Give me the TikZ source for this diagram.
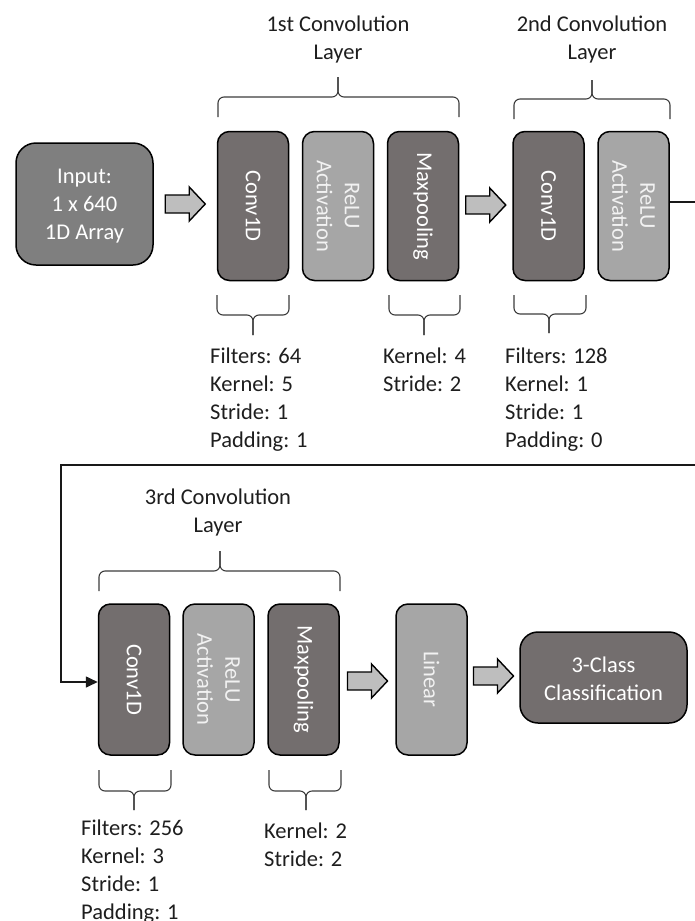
\documentclass[tikz,border=0pt]{standalone}
\usepackage{fontspec}
\setmainfont{Carlito}
\usetikzlibrary{calc,arrows.meta}

\definecolor{boxdark}{RGB}{115,110,110}
\definecolor{boxlight}{RGB}{166,166,166}
\definecolor{boxinput}{RGB}{127,127,127}
\definecolor{arrowfill}{RGB}{190,190,190}
\definecolor{inktext}{RGB}{30,30,30}
\definecolor{bracegray}{RGB}{60,60,60}

\tikzset{
  txt/.style={font=\fontsize{22.5}{28}\selectfont, inner sep=0pt},
  layerbox/.style={draw=black, line width=1.5pt, rounded corners=12pt,
    minimum width=71pt, minimum height=149pt, inner sep=0pt},
  darkbox/.style={layerbox, fill=boxdark},
  lightbox/.style={layerbox, fill=boxlight},
  boxtext/.style={txt, text=white, rotate=-90, align=center},
  lighttext/.style={txt, text=white!95!black, rotate=-90, align=center},
  titletext/.style={txt, text=inktext, align=center, anchor=north},
  paramtext/.style={txt, text=inktext, align=left, anchor=north west},
  bracestyle/.style={draw=bracegray, line width=1.1pt, rounded corners=6pt},
  blockarrow/.style={draw=black, line width=1.4pt, fill=arrowfill, line join=miter},
  conn/.style={draw=black!90, line width=1.6pt}
}

% block arrow centred on a named coordinate
\newcommand\blockarrowat[1]{%
  \draw[blockarrow] ($(#1)+(-20,-9)$) -- ($(#1)+(4,-9)$) -- ($(#1)+(4,-17)$)
    -- ($(#1)+(20,0)$) -- ($(#1)+(4,17)$) -- ($(#1)+(4,9)$)
    -- ($(#1)+(-20,9)$) -- cycle;}

% brace: #1 left x, #2 right x, #3 tip x, #4 end y, #5 bar y, #6 tip y
\newcommand\drawbrace[6]{%
  \draw[bracestyle] (#1,#4) -- (#1,#5) -- (#3,#5) -- (#3,#6);
  \draw[bracestyle] (#3,#6) -- (#3,#5) -- (#2,#5) -- (#2,#4);}

\begin{document}
\begin{tikzpicture}[x=1pt,y=-1pt]
\useasboundingbox (0,0) rectangle (694,921);

% ---- first row ----
\node[layerbox, fill=boxinput, rounded corners=20pt, minimum width=137pt,
      minimum height=122pt] (in) at (84.5,204) {};
\node[txt, text=white, align=center] (intxt) at (84.5,206) {Input:\\1 x 640\\1D Array};

\node[darkbox]  (c1) at (253,206) {};
\node[lightbox] (r1) at (338,206) {};
\node[darkbox]  (m1) at (423,206) {};
\node[darkbox]  (c2) at (548.5,206) {};
\node[lightbox] (r2) at (633.5,206) {};

\node[boxtext]   (c1t) at (c1) {Conv1D};
\node[lighttext] (r1t) at (r1) {ReLU\\Activation};
\node[boxtext]   (m1t) at (m1) {Maxpooling};
\node[boxtext]   (c2t) at (c2) {Conv1D};
\node[lighttext] (r2t) at (r2) {ReLU\\Activation};

\coordinate (a1) at ($(in.east)!0.5!(c1.west)+(0,-1)$);
\coordinate (a2) at ($(m1.east)!0.5!(c2.west)+(0,-1)$);
\blockarrowat{a1}
\blockarrowat{a2}

\node[titletext] (t1) at (338,16) {1st Convolution\\Layer};
\node[titletext] (t2) at (592,16) {2nd Convolution\\Layer};

\drawbrace{218}{459}{338}{117}{97}{77}
\drawbrace{514}{670}{592}{119}{99}{80}

\drawbrace{217}{289}{253}{295}{315}{335}
\drawbrace{389}{460}{424}{295}{315}{335}
\drawbrace{514}{586}{549}{295}{314}{333}

\node[paramtext] (p1) at (210,348) {Filters: 64\\Kernel: 5\\Stride: 1\\Padding: 1};
\node[paramtext] (p2) at (383,348) {Kernel: 4\\Stride: 2};
\node[paramtext] (p3) at (505,348) {Filters: 128\\Kernel: 1\\Stride: 1\\Padding: 0};

% ---- second row ----
\node[darkbox, minimum height=151pt]  (c3) at (134,679.5) {};
\node[lightbox, minimum height=151pt] (r3) at (218.5,679.5) {};
\node[darkbox, minimum height=151pt]  (m3) at (303.5,679.5) {};
\node[lightbox, minimum height=151pt] (lin) at (431.5,679.5) {};
\node[layerbox, fill=boxdark, rounded corners=18pt, minimum width=167pt,
      minimum height=91pt] (cls) at (603.5,677.5) {};

\node[boxtext]   (c3t) at (c3) {Conv1D};
\node[lighttext] (r3t) at (r3) {ReLU\\Activation};
\node[boxtext]   (m3t) at (m3) {Maxpooling};
\node[lighttext] (lint) at (lin) {Linear};
\node[txt, text=white, align=center] (clst) at (603.5,679) {3-Class\\Classification};

\coordinate (a3) at ($(m3.east)!0.5!(lin.west)+(0,1.5)$);
\coordinate (a4) at ($(lin.east)!0.5!(cls.west)+(0,-2.5)$);
\blockarrowat{a3}
\blockarrowat{a4}

\node[titletext] (t3) at (218,489) {3rd Convolution\\Layer};
\drawbrace{99}{340}{220}{591}{571}{551}

\drawbrace{99}{171}{134}{770}{791}{810}
\drawbrace{269}{341}{306}{770}{791}{810}

\node[paramtext] (p4) at (81,820) {Filters: 256\\Kernel: 3\\Stride: 1\\Padding: 1};
\node[paramtext] (p5) at (264,823) {Kernel: 2\\Stride: 2};

% ---- feed from the second block down to the third ----
\coordinate (turnR) at (702,465);
\coordinate (turnL) at (61,465);
\draw[conn, -{Triangle[length=12pt,width=11pt]}]
  ([yshift=4pt]r2.east) -| (turnR) -- (turnL) |- ([yshift=-2.5pt]c3.west);

\end{tikzpicture}
\end{document}
